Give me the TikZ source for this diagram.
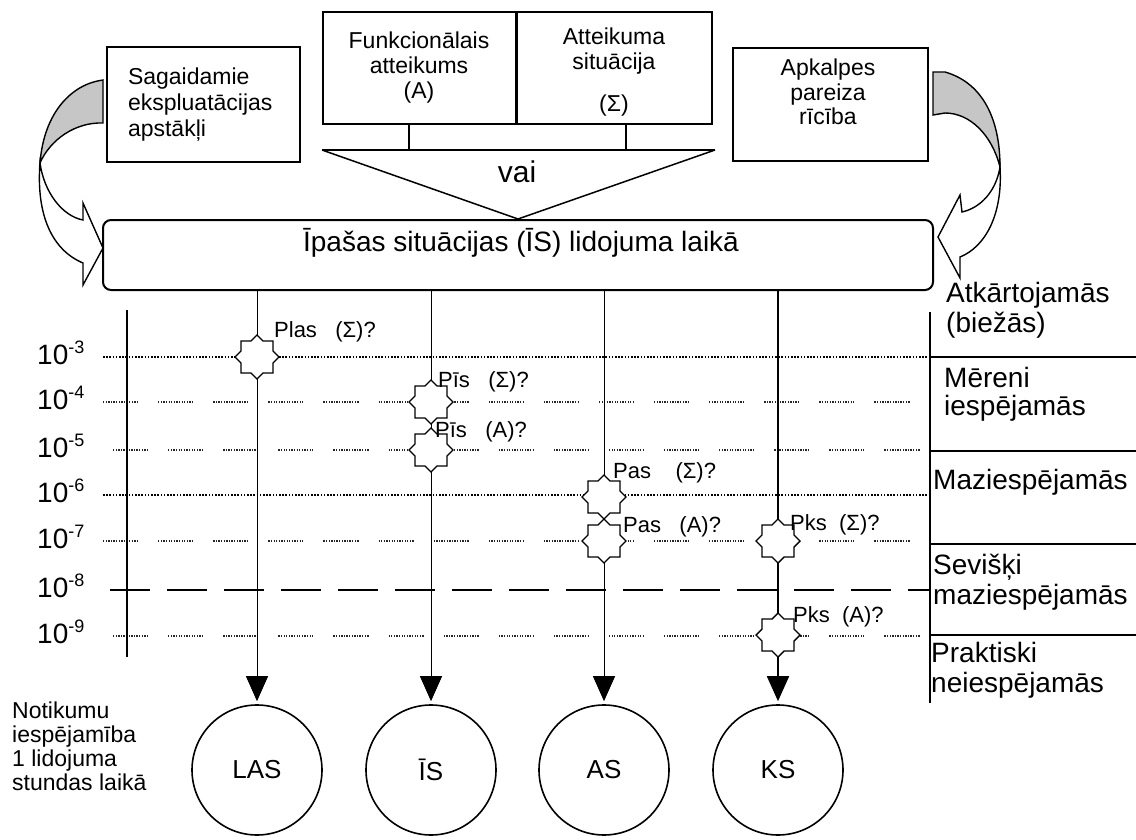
\documentclass[tikz,border=0pt]{standalone}
\usepackage{fontspec}
\setmainfont{Liberation Sans}
\usetikzlibrary{arrows.meta}
\usetikzlibrary{calc}

\newcommand{\fsz}[2]{\fontsize{#1}{#2}\selectfont}
% 8-point star round a named coordinate
\newcommand{\pstar}[1]{%
  \draw[fill=white, line width=1.4pt, shift={(#1)}] (0,-22) -- (-6,-16) -- (-16,-16) -- (-16,-6) -- (-22,0) -- (-16,6) -- (-16,16) -- (-6,16) -- (0,22) -- (6,16) -- (16,16) -- (16,6) -- (22,0) -- (16,-6) -- (16,-16) -- (6,-16) -- cycle;}

\tikzset{
  box/.style={draw, line width=2pt, inner sep=0pt},
  lbl/.style={inner sep=0pt, anchor=west},
  state/.style={draw, circle, line width=1.6pt, minimum size=130pt, inner sep=0pt, font=\fsz{26}{26}},
  conn/.style={line width=1pt, -{Triangle[width=22pt,length=25pt]}, shorten >=3pt},
  dotline/.style={line width=1.4pt, dash pattern=on 1.6pt off 1.6pt},
  segline/.style={line width=1.1pt, black!85, dash pattern=on 1.3pt off 1.3pt on 1.3pt off 1.3pt on 1.3pt off 1.3pt on 1.3pt off 1.3pt on 1.3pt off 1.3pt on 1.3pt off 1.3pt on 1.3pt off 1.3pt on 1.3pt off 1.3pt on 1.3pt off 1.3pt on 1.3pt off 1.3pt on 1.3pt off 1.3pt on 1.3pt off 1.3pt on 1.3pt off 1.3pt on 1.3pt off 20pt},
  longdash/.style={line width=2pt, dash pattern=on 40pt off 17pt}
}

\begin{document}
\begin{tikzpicture}[x=1pt, y=-1pt]
\useasboundingbox (0,0) rectangle (1136,840);

% boxes at the top
\node[box, minimum width=193pt, minimum height=115pt, align=left, text width=151pt, font=\fsz{23}{26}] (sag) at (203.5,104.5) {Sagaidamie\\ekspluatācijas\\apstākļi};
\node[box, minimum width=193pt, minimum height=112pt, align=center, font=\fsz{23}{25}] (funk) at (419,68) {Funkcionālais\\atteikums\\(A)};
\node[box, minimum width=196pt, minimum height=112pt] (att) at (614,68) {};
\node[align=center, font=\fsz{23}{25}] (atttxt) at (614,72) {Atteikuma\\situācija\\[17pt](Σ)};
\draw[line width=3pt] (funk.north east) -- (funk.south east);
\node[box, minimum width=195pt, minimum height=113pt] (ap) at (830.5,104.5) {};
\node[align=center, font=\fsz{23}{24.5}] (aptxt) at (828,92) {Apkalpes\\pareiza\\rīcība};

\node[box, rounded corners=8pt, minimum width=830pt, minimum height=70pt] (main) at (518,255) {};
\node[font=\fsz{28}{28}] (maintxt) at (521,243) {Īpašas situācijas (ĪS) lidojuma laikā};

% vai
\coordinate (barL) at (322,150);
\coordinate (barR) at (715,150);
\draw[line width=1.5pt] ($(funk.south)+(-10,0)$) -- ++(0,26);
\draw[line width=1.5pt] ($(att.south)+(12,0)$) -- ++(0,26);
\draw[line width=2pt] (barL) -- (barR);
\draw[line width=1.5pt] (barL) -- (main.north) -- (barR);
\node[font=\fsz{30}{30}] (vai) at (517,172) {vai};

% curved arrows
\filldraw[fill=gray!45, line width=1.4pt] (103,80) .. controls (72,84) and (44,112) .. (40,163) .. controls (50,140) and (75,122) .. (103,123) -- cycle;
\filldraw[fill=white, line width=1.4pt] (40,163) .. controls (44,192) and (62,216) .. (83,220) -- (83,203) -- (103,248) -- (83,285) -- (83,263) .. controls (52,250) and (36,215) .. (40,163) -- cycle;

\filldraw[fill=gray!45, line width=1.4pt] (933,72) -- (945,72) .. controls (980,82) and (1000,115) .. (1000,167) .. controls (992,135) and (970,113) .. (945,113) -- (933,115) -- cycle;
\filldraw[fill=white, line width=1.4pt] (1000,167) .. controls (996,192) and (980,208) .. (962,212) -- (960,195) -- (938,237) -- (960,278) -- (960,257) .. controls (985,247) and (1003,215) .. (1000,167) -- cycle;

% levels
\draw[dotline] (103,357) -- (930,357);
\draw[segline] (103,402) -- (930,402);
\draw[segline] (113,450) -- (930,450);
\draw[dotline] (103,495) -- (930,495);
\draw[segline] (103,541) -- (930,541);
\draw[longdash] (110,590) -- (930,590);
\draw[segline] (113,636) -- (930,636);

\foreach \e/\y in {3/357,4/402,5/450,6/495,7/541,8/590,9/636}
  \node[inner sep=0pt, anchor=base west, font=\fsz{28}{28}] (e\e) at (37,\y+7) {10\raisebox{11pt}{\fsz{18}{18}-\e}};

\draw[line width=2.2pt] (127,310) -- (127,657);

% right scale
\draw[line width=2pt] (930,312) -- (930,703);
\draw[line width=2pt] (930,357) -- (1136,357);
\draw[line width=2pt] (930,451) -- (1136,451);
\draw[line width=1.2pt] (930,544) -- (1136,544);
\draw[line width=1.2pt] (930,635) -- (1136,635);

\node[lbl, align=left, font=\fsz{28}{30}] (r1) at (946,310) {Atkārtojamās\\(biežās)};
\node[lbl, align=left, font=\fsz{28}{28}] (r2) at (944,394) {Mēreni\\iespējamās};
\node[lbl, font=\fsz{28}{28}] (r3) at (933,482) {Maziespējamās};
\node[lbl, align=left, font=\fsz{28}{30}] (r4) at (933,582) {Sevišķi\\maziespējamās};
\node[lbl, align=left, font=\fsz{28}{30}] (r5) at (931,670) {Praktiski\\neiespējamās};

% outcomes
\foreach \n/\x/\t in {las/257/LAS, is/431/ĪS, as/604/AS, ks/778/KS}
  \node[state] (\n) at (\x,770) {\t};

\draw[conn] (las |- main.south) -- (las);
\draw[conn] (is |- main.south) -- (is);
\draw[conn] (as |- main.south) -- (as);
\draw[conn, line width=1.8pt] (ks |- main.south) -- (ks);

\coordinate (sPlas) at (257,357);
\coordinate (sPisS) at (431,402);
\coordinate (sPisA) at (431,450);
\coordinate (sPasS) at (604,497);
\coordinate (sPasA) at (604,541);
\coordinate (sPksS) at (778,541);
\coordinate (sPksA) at (778,635);
\foreach \s in {sPlas,sPisS,sPisA,sPasS,sPasA,sPksS,sPksA}
  \pstar{\s};

\node[lbl, font=\fsz{22}{22}] (lPlas) at (274,332) {Plas~~~(Σ)?};
\node[lbl, font=\fsz{22}{22}] (lPisS) at (438,382) {Pīs~~~(Σ)?};
\node[lbl, font=\fsz{22}{22}] (lPisA) at (435,432) {Pīs~~~(A)?};
\node[lbl, font=\fsz{22}{22}] (lPasS) at (613,473) {Pas~~~~(Σ)?};
\node[lbl, font=\fsz{22}{22}] (lPasA) at (623,527) {Pas~~~(A)?};
\node[lbl, font=\fsz{22}{22}] (lPksS) at (790,525) {Pks~~(Σ)?};
\node[lbl, font=\fsz{22}{22}] (lPksA) at (793,617) {Pks~~(A)?};

\node[lbl, align=left, font=\fsz{23}{24}] (note) at (12,746) {Notikumu\\iespējamība\\1 lidojuma\\stundas laikā};

\end{tikzpicture}
\end{document}
